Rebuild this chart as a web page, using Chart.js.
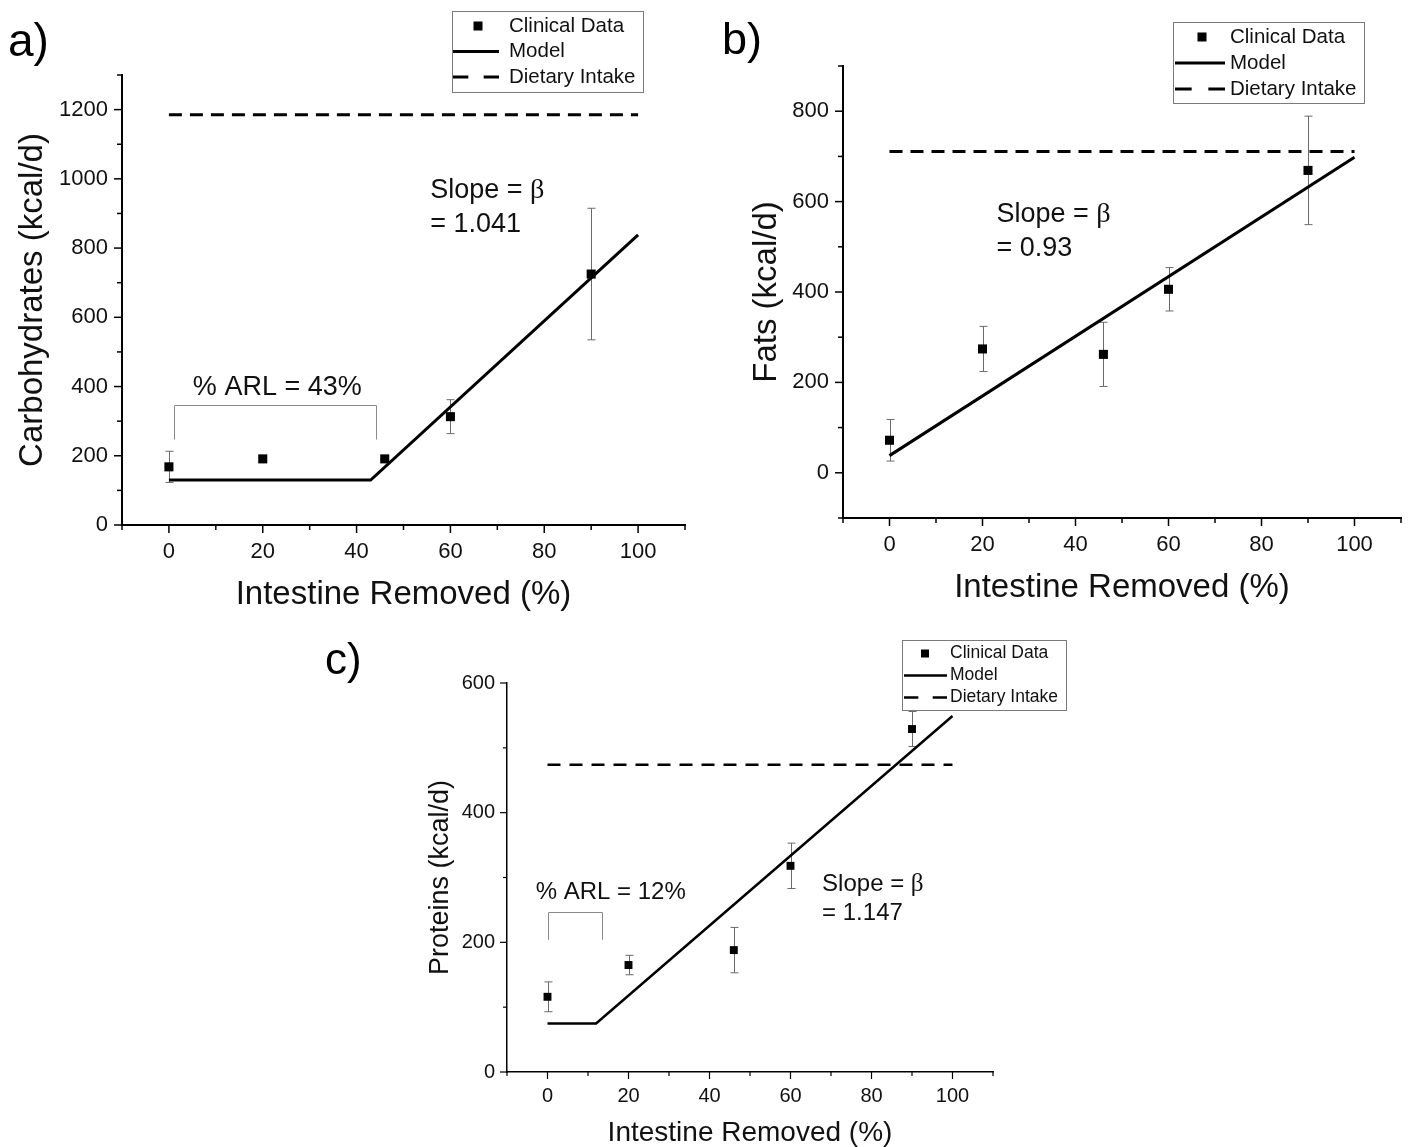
<!DOCTYPE html>
<html>
<head>
<meta charset="utf-8">
<script src="https://cdn.jsdelivr.net/npm/chart.js@4.4.1/dist/chart.umd.min.js"></script>
<style>
  body { margin: 0; background: #fff; width: 1413px; height: 1147px; position: relative; overflow: hidden; }
  canvas { position: absolute; }
</style>
</head>
<body>
<canvas id="chartA" width="700" height="620" style="left:0;top:0"></canvas>
<canvas id="chartB" width="713" height="620" style="left:700px;top:0"></canvas>
<canvas id="chartC" width="800" height="527" style="left:300px;top:620px"></canvas>
<script>
// values
const removed = [0, 20, 46, 60, 90];
const xTickLabels = [0, 20, 40, 60, 80, 100];
const intakeX = [0, 100];
const legendLabels = ['Clinical Data', 'Model', 'Dietary Intake'];

const carbs = [168, 191, 191, 313, 725];
const carbsErr = [45, 0, 0, 49, 190];
const carbsModelX = [0, 43, 100];
const carbsModelY = [130, 130, 838];
const carbsIntake = 1185;
const carbsYLabels = [0, 200, 400, 600, 800, 1000, 1200];

const fats = [72, 274, 262, 406, 669];
const fatsErr = [46, 50, 71, 48, 120];
const fatsModelX = [0, 100];
const fatsModelY = [38, 698];
const fatsIntake = 711;
const fatsYLabels = [0, 200, 400, 600, 800];

const proteins = [116, 165, 188, 318, 529];
const proteinsErr = [23, 15, 35, 35, 27];
const proteinsModelX = [0, 12, 100];
const proteinsModelY = [75, 75, 549];
const proteinsIntake = 474;
const proteinsYLabels = [0, 200, 400, 600];

const FONT = '"Liberation Sans", Arial, sans-serif';
Chart.defaults.font.family = FONT;
Chart.defaults.color = '#111';

function pts(xs, ys) {
    return xs.map((x, i) => ({ x: x, y: ys[i] }));
}

function line(ctx, x1, y1, x2, y2) {
    ctx.beginPath();
    ctx.moveTo(x1, y1);
    ctx.lineTo(x2, y2);
    ctx.stroke();
}

// text with a serif beta like the original
function drawText(ctx, str, x, y, size, align) {
    ctx.font = size + 'px ' + FONT;
    ctx.textBaseline = 'middle';
    const i = str.indexOf('β');
    if (i < 0) {
        ctx.textAlign = align || 'left';
        ctx.fillText(str, x, y);
        return;
    }
    const pre = str.slice(0, i);
    ctx.textAlign = 'left';
    ctx.fillText(pre, x, y);
    const w = ctx.measureText(pre).width;
    ctx.font = (size * 1.05) + 'px "Liberation Serif", serif';
    ctx.fillText('β', x + w, y);
}

const extras = {
    id: 'extras',
    beforeDatasetsDraw(chart, args, o) {
        // error bars
        const sx = chart.scales.x, sy = chart.scales.y, ctx = chart.ctx;
        ctx.save();
        ctx.strokeStyle = '#6a6a6a';
        ctx.lineWidth = 1;
        o.err.forEach((e, i) => {
            if (!e) return;
            const px = Math.round(sx.getPixelForValue(removed[i])) + 0.5;
            const y1 = sy.getPixelForValue(o.vals[i] - e);
            const y2 = sy.getPixelForValue(o.vals[i] + e);
            line(ctx, px, y1, px, y2);
            line(ctx, px - o.cap, y1, px + o.cap, y1);
            line(ctx, px - o.cap, y2, px + o.cap, y2);
        });
        ctx.restore();
    },
    afterDraw(chart, args, o) {
        const sx = chart.scales.x, sy = chart.scales.y, ctx = chart.ctx;
        const a = chart.chartArea;
        ctx.save();

        // major and minor ticks, pointing out
        ctx.strokeStyle = '#000';
        ctx.lineWidth = o.tickW;
        sx.ticks.forEach(t => {
            const p = sx.getPixelForValue(t.value);
            const len = xTickLabels.includes(t.value) ? o.tickMaj : o.tickMin;
            line(ctx, p, a.bottom, p, a.bottom + len);
        });
        sy.ticks.forEach(t => {
            const p = sy.getPixelForValue(t.value);
            const len = o.yLabels.includes(t.value) ? o.tickMaj : o.tickMin;
            line(ctx, a.left - len, p, a.left, p);
        });

        // % ARL bracket
        if (o.bracket) {
            const b = o.bracket;
            const x1 = Math.round(sx.getPixelForValue(b.x1)) + 0.5;
            const x2 = Math.round(sx.getPixelForValue(b.x2)) + 0.5;
            const yt = Math.round(sy.getPixelForValue(b.top)) + 0.5;
            const yb = sy.getPixelForValue(b.bot);
            ctx.strokeStyle = '#8a8a8a';
            ctx.lineWidth = 1;
            ctx.beginPath();
            ctx.moveTo(x1, yb);
            ctx.lineTo(x1, yt);
            ctx.lineTo(x2, yt);
            ctx.lineTo(x2, yb);
            ctx.stroke();
        }

        // annotations
        ctx.fillStyle = '#111';
        o.texts.forEach(t => {
            drawText(ctx, t.t, sx.getPixelForValue(t.x), sy.getPixelForValue(t.y), t.size, t.align);
        });

        // boxed legend
        const L = o.legend;
        ctx.fillStyle = '#fff';
        ctx.fillRect(L.left, L.top, L.w, L.h);
        ctx.strokeStyle = '#7a7a7a';
        ctx.lineWidth = 1;
        ctx.strokeRect(L.left + 0.5, L.top + 0.5, L.w, L.h);
        legendLabels.forEach((lab, i) => {
            const y = L.top + L.rowTop + i * L.rowGap;
            const s1 = L.left + L.symL, s2 = L.left + L.symR;
            ctx.fillStyle = '#000';
            ctx.strokeStyle = '#000';
            ctx.lineWidth = o.lw;
            if (i === 0) {
                ctx.fillRect(L.left + L.mark - L.markSize / 2, y - L.markSize / 2, L.markSize, L.markSize);
            } else {
                const d = (s2 - s1) / 3;
                ctx.setLineDash(i === 2 ? [d, d] : []);
                line(ctx, s1, y, s2, y);
                ctx.setLineDash([]);
            }
            ctx.fillStyle = '#111';
            drawText(ctx, lab, L.left + L.textX, y, L.size, 'left');
        });

        // panel letter
        ctx.fillStyle = '#000';
        ctx.font = o.label.size + 'px ' + FONT;
        ctx.textAlign = 'left';
        ctx.textBaseline = 'alphabetic';
        ctx.fillText(o.label.t, o.label.x, o.label.y);
        ctx.restore();
    }
};

function makeChart(id, c) {
    const canvas = document.getElementById(id);
    const W = canvas.width, H = canvas.height, A = c.area;
    return new Chart(canvas, {
        type: 'scatter',
        data: {
            datasets: [
                {
                    label: legendLabels[0],
                    data: pts(removed, c.vals),
                    pointStyle: 'rect',
                    pointRadius: c.marker,
                    pointHoverRadius: c.marker,
                    backgroundColor: '#000',
                    borderColor: '#000',
                    borderWidth: 0
                },
                {
                    label: legendLabels[1],
                    data: pts(c.modelX, c.modelY),
                    showLine: true,
                    borderColor: '#000',
                    borderWidth: c.lw,
                    pointRadius: 0
                },
                {
                    label: legendLabels[2],
                    data: pts(intakeX, [c.intake, c.intake]),
                    showLine: true,
                    borderColor: '#000',
                    borderWidth: c.lw,
                    borderDash: c.dash,
                    pointRadius: 0
                }
            ]
        },
        options: {
            responsive: false,
            animation: false,
            devicePixelRatio: 1,
            events: [],
            layout: { padding: { top: A.top, right: W - A.right, bottom: 0, left: 0 } },
            plugins: {
                legend: { display: false },
                tooltip: { enabled: false },
                extras: {
                    vals: c.vals, err: c.err, cap: c.cap, yLabels: c.yLabels,
                    tickMaj: c.tickMaj, tickMin: c.tickMin, tickW: c.tickW, lw: c.lw,
                    bracket: c.bracket, texts: c.texts, legend: c.legend, label: c.label
                }
            },
            scales: {
                x: {
                    type: 'linear',
                    position: 'bottom',
                    min: -10,
                    max: 110,
                    afterFit: s => { s.height = H - A.bottom; },
                    border: { display: true, color: '#000', width: c.axisW },
                    grid: { display: true, drawOnChartArea: false, drawTicks: true, tickLength: c.tickMaj, tickColor: 'rgba(0,0,0,0)' },
                    ticks: {
                        stepSize: 10, autoSkip: false, maxRotation: 0, padding: c.tickPad,
                        font: { size: c.tickSize },
                        callback: v => xTickLabels.includes(v) ? v : ''
                    },
                    title: {
                        display: true, text: 'Intestine Removed (%)',
                        font: { size: c.titleSize, lineHeight: 1 },
                        padding: { top: 0, bottom: c.xTitlePad }
                    }
                },
                y: {
                    type: 'linear',
                    min: c.yMin,
                    max: c.yMax,
                    afterFit: s => { s.width = A.left; },
                    border: { display: true, color: '#000', width: c.axisW },
                    grid: { display: true, drawOnChartArea: false, drawTicks: true, tickLength: c.tickMaj, tickColor: 'rgba(0,0,0,0)' },
                    ticks: {
                        stepSize: 100, autoSkip: false, padding: c.tickPad,
                        font: { size: c.tickSize },
                        callback: v => c.yLabels.includes(v) ? v : ''
                    },
                    title: {
                        display: true, text: c.yTitle,
                        font: { size: c.yTitleSize, lineHeight: 1 },
                        padding: { top: c.yTitlePad, bottom: 0 }
                    }
                }
            }
        },
        plugins: [extras]
    });
}

makeChart('chartA', {
    area: { left: 122, right: 685, top: 75, bottom: 525 },
    yMin: 0, yMax: 1300, yLabels: carbsYLabels, yTitle: 'Carbohydrates (kcal/d)',
    vals: carbs, err: carbsErr, modelX: carbsModelX, modelY: carbsModelY, intake: carbsIntake,
    tickSize: 22, titleSize: 33, yTitleSize: 33, tickPad: 6, xTitlePad: 8.5, yTitlePad: 16.5,
    marker: 6.4, lw: 3, dash: [13, 8], axisW: 2, tickW: 1.5, tickMaj: 8, tickMin: 5, cap: 4,
    bracket: { x1: 1, x2: 44.1, top: 347, bot: 247 },
    texts: [
        { t: 'Slope = β', x: 55.7, y: 966, size: 27 },
        { t: '= 1.041', x: 55.7, y: 869, size: 27 },
        { t: '% ARL = 43%', x: 23.1, y: 398, size: 27, align: 'center' }
    ],
    legend: { left: 452, top: 11, w: 191, h: 81, rowTop: 15, rowGap: 25.5, symL: 1, symR: 47, mark: 26, textX: 57, size: 20.5, markSize: 9 },
    label: { t: 'a)', x: 8, y: 56, size: 46 }
});

makeChart('chartB', {
    area: { left: 143, right: 701, top: 66, bottom: 518 },
    yMin: -100, yMax: 900, yLabels: fatsYLabels, yTitle: 'Fats (kcal/d)',
    vals: fats, err: fatsErr, modelX: fatsModelX, modelY: fatsModelY, intake: fatsIntake,
    tickSize: 22, titleSize: 33, yTitleSize: 33, tickPad: 6, xTitlePad: 15.5, yTitlePad: 50.5,
    marker: 6.4, lw: 3, dash: [13, 8], axisW: 2, tickW: 1.5, tickMaj: 8, tickMin: 5, cap: 4,
    bracket: null,
    texts: [
        { t: 'Slope = β', x: 23, y: 571, size: 27 },
        { t: '= 0.93', x: 23, y: 496, size: 27 }
    ],
    legend: { left: 473, top: 22, w: 191, h: 81, rowTop: 15, rowGap: 26, symL: 2, symR: 52, mark: 29, textX: 57, size: 20.5, markSize: 9 },
    label: { t: 'b)', x: 22, y: 54, size: 45 }
});

makeChart('chartC', {
    area: { left: 207, right: 693, top: 63, bottom: 452 },
    yMin: 0, yMax: 600, yLabels: proteinsYLabels, yTitle: 'Proteins (kcal/d)',
    vals: proteins, err: proteinsErr, modelX: proteinsModelX, modelY: proteinsModelY, intake: proteinsIntake,
    tickSize: 20, titleSize: 28, yTitleSize: 27, tickPad: 5, xTitlePad: 0, yTitlePad: 127,
    marker: 5.6, lw: 2.5, dash: [13, 9], axisW: 1.5, tickW: 1.2, tickMaj: 7, tickMin: 4, cap: 4,
    bracket: { x1: 0, x2: 13.5, top: 246.5, bot: 204 },
    texts: [
        { t: '% ARL = 12%', x: 15.6, y: 276.5, size: 24, align: 'center' },
        { t: 'Slope = β', x: 67.8, y: 289, size: 24 },
        { t: '= 1.147', x: 67.8, y: 245, size: 24 }
    ],
    legend: { left: 602, top: 20, w: 164, h: 70, rowTop: 13.5, rowGap: 22, symL: 2, symR: 45, mark: 23, textX: 48, size: 17.5, markSize: 8 },
    label: { t: 'c)', x: 25, y: 54, size: 44 }
});
</script>
</body>
</html>
